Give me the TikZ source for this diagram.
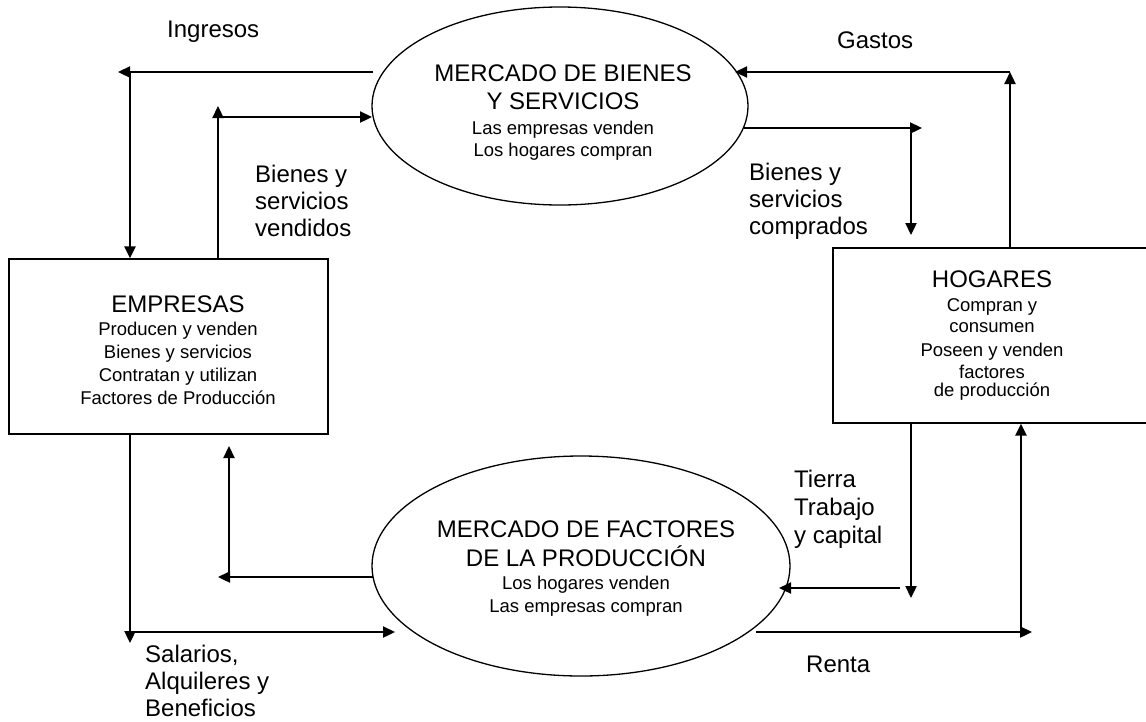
\documentclass[tikz,border=0pt]{standalone}
\usepackage{fontspec}
\setmainfont{Liberation Sans}
\usetikzlibrary{calc,shapes.geometric,arrows.meta}
\newcommand{\bigf}{\fontsize{24}{27}\selectfont}
\newcommand{\smallf}{\fontsize{18.5}{23}\selectfont}

\begin{document}
\begin{tikzpicture}[x=1pt,y=-1pt,
    flow/.style={line width=2.3pt,-{Triangle[length=12pt,width=11pt]}},
    market/.style={draw,ellipse,line width=1.3pt,inner sep=0pt},
    agent/.style={draw,rectangle,line width=1.3pt,inner sep=0pt},
    intext/.style={inner sep=0pt,align=center,font=\smallf},
    lbl/.style={inner sep=0pt,anchor=north west,align=left,font=\bigf}]
      \useasboundingbox (0,0) rectangle (1146,721);
      % mercados y agentes
      \node[market,minimum width=376pt,minimum height=198pt](bsm)at(560,106){};
      \node[market,minimum width=418pt,minimum height=220pt](mfp)at(581,566){};
      \node[agent,minimum width=319pt,minimum height=175pt](emp)at(168.5,346.5){};
      \node[agent,minimum width=317pt,minimum height=175pt](hog)at(991.5,335.5){};
      \node[intext](bsmtxt)at(563,113){{\bigf MERCADO DE BIENES}\\[5pt]{\bigf Y SERVICIOS}\\[2pt]
        Las empresas venden\\[-1pt]Los hogares compran};
      \node[intext](mfptxt)at(586,569){{\bigf MERCADO DE FACTORES}\\[6pt]{\bigf DE LA PRODUCCIÓN}\\
        Los hogares venden\\Las empresas compran};
      \node[intext](emptxt)at(178,350){{\bigf EMPRESAS}\\Producen y venden\\Bienes y servicios\\
        Contratan y utilizan\\Factores de Producción};
      \node[intext](hogtxt)at(992,336){{\bigf HOGARES}\\[1pt]Compran y\\[-2pt]consumen\\[1pt]
        Poseen y venden\\[-1pt]factores\\[-5pt]de producción};
      % puntos de los flujos
      \coordinate(ingA)at(373,72);\coordinate(ingB)at(118,72);\coordinate(ingC)at(130,72);
      \coordinate(venA)at(218,106);\coordinate(venB)at(218,117);\coordinate(venC)at(372,117);
      \coordinate(gasA)at(1010,72);\coordinate(gasB)at(735,72);
      \coordinate(comA)at(744,128);\coordinate(comB)at(922,128);\coordinate(comC)at(911,128);
      \coordinate(comD)at(911,235);
      \coordinate(tieA)at(911,598);\coordinate(tieB)at(900,588);\coordinate(tieC)at(779,588);
      \coordinate(renA)at(756,632);\coordinate(renB)at(1032,632);\coordinate(renC)at(1021,632);
      \coordinate(salA)at(130,643);\coordinate(salB)at(130,632);\coordinate(salC)at(395,632);
      \coordinate(facA)at(373,577);\coordinate(facB)at(218,577);\coordinate(facC)at(229,577);
      \coordinate(facD)at(229,446);
      % flujos
      \draw[flow](ingA)--(ingB);
      \draw[flow](ingC)--(ingC |- emp.north);
      \draw[flow](venA |- emp.north)--(venA);
      \draw[flow](venB)--(venC);
      \draw[flow](gasA |- hog.north)--(gasA);
      \draw[flow](gasA)--(gasB);
      \draw[flow](comA)--(comB);
      \draw[flow](comC)--(comD);
      \draw[flow](tieA |- hog.south)--(tieA);
      \draw[flow](tieB)--(tieC);
      \draw[flow](renA)--(renB);
      \draw[flow](renC)--(renC |- hog.south);
      \draw[flow](salA |- emp.south)--(salA);
      \draw[flow](salB)--(salC);
      \draw[flow](facA)--(facB);
      \draw[flow](facC)--(facD);
      % etiquetas
      \node[lbl](ing)at(167,21){Ingresos};
      \node[lbl](gas)at(837,32){Gastos};
      \node[lbl](ven)at(255,165){Bienes y\\servicios\\vendidos};
      \node[lbl](com)at(749,163){Bienes y\\servicios\\comprados};
      \node[lbl](tie)at(794,470){Tierra\\[1pt]Trabajo\\[1pt]y capital};
      \node[lbl](ren)at(806,656){Renta};
      \node[lbl](sal)at(145,645){Salarios,\\Alquileres y\\Beneficios};
    \end{tikzpicture}
\end{document}
